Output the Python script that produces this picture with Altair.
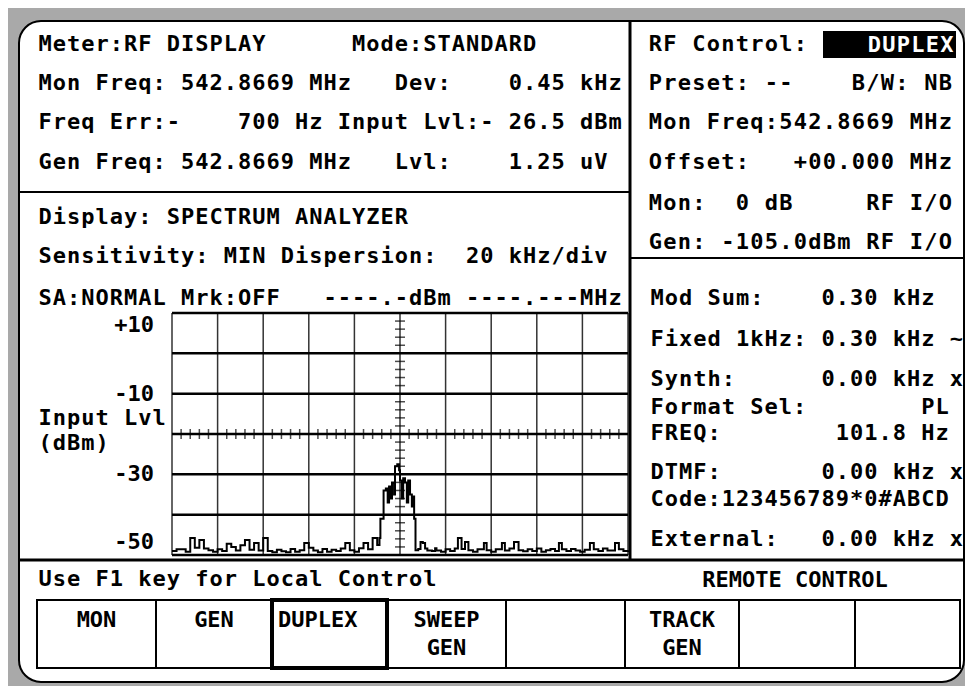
import altair as alt
import pandas as pd

OFF = 8  # page margin: picture px -> chart px
FONT = "DejaVu Sans Mono"
FS = 22
BEZEL = "#a9a9a9"

# ---------------- spectrum trace (offset from centre in kHz, level in dBm) ----------------
freq_khz = [-100, -98, -96, -94, -92, -90, -88, -86, -84, -82, -80, -78, -76, -74, -72, -70,
            -68, -66, -64, -62, -60, -58, -56, -54, -52, -50, -48, -46, -44, -42, -40, -38,
            -36, -34, -32, -30, -28, -26, -24, -22, -20, -18, -16, -14, -12, -10, -9,
            -8.6, -7.2, -6.2, -5.4, -4.8, -4.0, -3.5, -2.6, -2.2, -1.2, -0.4, 0.0, 0.8, 1.4,
            2.2, 3.0, 3.6, 4.4, 5.2, 5.8, 6.2, 6.8,
            8, 9, 10, 11, 12, 14, 15.4, 16, 18, 20, 22, 24, 25.4, 27, 28.5, 30, 32, 34, 36.8,
            38, 40, 42, 44.7, 46, 48, 50, 52, 54, 56, 58, 60, 62, 64, 66, 68, 69.7, 71, 73,
            75, 77, 79, 81, 83.3, 85, 87, 89, 91, 94.3, 96, 98, 100]
level_dbm = [-49.0, -48.6, -48.6, -49.2, -45.8, -48.2, -46.3, -48.4, -48.8, -49.2, -48.6, -49.0,
             -47.2, -48.0, -48.9, -47.6, -46.3, -48.7, -47.0, -48.9, -45.8, -49.0, -49.3, -48.7,
             -49.1, -49.3, -48.5, -49.2, -48.8, -47.0, -48.2, -48.9, -49.3, -48.5, -49.2, -48.7,
             -49.0, -48.4, -47.0, -48.8, -49.2, -48.3, -47.0, -48.6, -45.8, -47.5, -45.8,
             -41.0, -34.0, -33.5, -37.0, -33.0, -36.0, -32.0, -35.0, -28.0, -27.5, -29.0, -31.5,
             -36.0, -31.0, -32.0, -37.0, -31.5, -35.0, -38.0, -35.5, -41.0, -48.8,
             -48.5, -46.8, -47.0, -48.4, -48.9, -49.0, -48.3, -48.9, -49.2, -48.6, -49.0, -48.4,
             -45.8, -48.5, -46.8, -48.8, -49.2, -48.6, -47.0, -48.8, -49.2, -48.6, -47.0, -48.9,
             -48.4, -46.8, -48.8, -49.1, -48.6, -49.0, -48.4, -49.2, -48.8, -48.5, -49.0, -47.0,
             -48.6, -49.0, -48.5, -48.9, -49.2, -48.7, -47.0, -48.6, -49.0, -48.4, -48.9, -47.0,
             -48.6, -49.0, -48.8]

# ---------------- graticule ----------------
x_major_khz = [-100, -80, -60, -40, -20, 0, 20, 40, 60, 80, 100]
y_major_dbm = [10, 0, -10, -20, -30, -40, -50]
y_label_values = [10, -10, -30, -50]
y_label_text = ["+10", "-10", "-30", "-50"]
x_minor_khz = [v + s for v in range(-100, 100, 20) for s in (4, 8, 12, 16)]
y_minor_dbm = [v + s for v in range(-50, 10, 10) for s in (2, 4, 6, 8)]

# ---------------- screen readouts (fixed-pitch character screen) ----------------
left_lines = [
    "Meter:RF DISPLAY      Mode:STANDARD",
    "Mon Freq: 542.8669 MHz   Dev:    0.45 kHz",
    "Freq Err:-    700 Hz Input Lvl:- 26.5 dBm",
    "Gen Freq: 542.8669 MHz   Lvl:    1.25 uV",
    "Display: SPECTRUM ANALYZER",
    "Sensitivity: MIN Dispersion:  20 kHz/div",
    "SA:NORMAL Mrk:OFF   ----.-dBm ----.---MHz",
    "Input Lvl",
    "(dBm)",
    "Use F1 key for Local Control",
]
upper_right_lines = [
    "RF Control:",
    "Preset: --    B/W: NB",
    "Mon Freq:542.8669 MHz",
    "Offset:   +00.000 MHz",
    "Mon:  0 dB     RF I/O",
    "Gen: -105.0dBm RF I/O",
]
lower_right_lines = [
    "Mod Sum:    0.30 kHz",
    "Fixed 1kHz: 0.30 kHz ~",
    "Synth:      0.00 kHz x",
    "Format Sel:        PL",
    "FREQ:        101.8 Hz",
    "DTMF:       0.00 kHz x",
    "Code:123456789*0#ABCD",
    "External:   0.00 kHz x",
]
rf_control_state = "DUPLEX"
status_text = "REMOTE CONTROL"
softkeys = [["MON"], ["GEN"], ["DUPLEX"], ["SWEEP", "GEN"], [], ["TRACK", "GEN"], [], []]

# ---------------- layout (picture pixels) ----------------
left_x0, left_pitch = 38, 14.25
upper_right_x0, upper_right_pitch = 648, 14.5
lower_right_x0, lower_right_pitch = 650, 14.25
left_rows_y = [44, 83, 122, 162, 217, 256, 298, 418, 443, 579]
upper_right_rows_y = [44, 83, 122, 162, 203, 242]
lower_right_rows_y = [298, 339, 379, 407, 433, 472, 499, 539]
button_edges = [37, 156, 272, 387, 506, 625, 739, 855, 960]
button_top, button_bottom = 600, 668
button_text_y = [620, 648]

xs = alt.Scale(domain=[-100, 100], range=[172 - OFF, 628 - OFF], nice=False, zero=False)
ys = alt.Scale(domain=[-50, 10], range=[555 - OFF, 313 - OFF], nice=False, zero=False)


def PX(f="x"):
    return alt.X(f + ":Q", scale=None, axis=None)


def PY(f="y"):
    return alt.Y(f + ":Q", scale=None, axis=None)


def grid_chars(lines, ys_, x0, pitch):
    rows = []
    for text, y in zip(lines, ys_):
        for i, ch in enumerate(text):
            if ch != " ":
                rows.append((ch, x0 + (i + 0.5) * pitch - OFF, y - OFF))
    return pd.DataFrame(rows, columns=["t", "x", "y"])


def text_chart(df, align="center", color="black"):
    return alt.Chart(df).mark_text(align=align, baseline="middle", font=FONT, fontSize=FS,
                                   fontWeight="bold", color=color).encode(
        x=PX(), y=PY(), text="t:N")


def rect_df(rows):
    df = pd.DataFrame(rows, columns=["x", "x2", "y", "y2", "w"])
    for c in ("x", "x2", "y", "y2"):
        df[c] = df[c] - OFF
    return df


layers = []

# white screen with rounded corners
layers.append(alt.Chart(rect_df([(19, 964, 21, 682, 2)])).mark_rect(
    fill="white", stroke="black", strokeWidth=2, cornerRadius=22).encode(
    x=PX(), x2="x2:Q", y=PY(), y2="y2:Q"))

# graticule
vg = pd.DataFrame({"f": x_major_khz, "lo": -50, "hi": 10})
layers.append(alt.Chart(vg).mark_rule(color="#333", strokeWidth=1.5).encode(
    x=alt.X("f:Q", scale=xs, axis=None), y=alt.Y("lo:Q", scale=ys, axis=None), y2="hi:Q"))
hg = pd.DataFrame({"l": y_major_dbm, "lo": -100, "hi": 100})
layers.append(alt.Chart(hg).mark_rule(color="black", strokeWidth=2.5).encode(
    y=alt.Y("l:Q", scale=ys, axis=None), x=alt.X("lo:Q", scale=xs, axis=None), x2="hi:Q"))
mx = pd.DataFrame({"f": x_minor_khz, "l": -20})
layers.append(alt.Chart(mx).mark_tick(orient="vertical", size=10, thickness=1.5, color="black").encode(
    x=alt.X("f:Q", scale=xs, axis=None), y=alt.Y("l:Q", scale=ys, axis=None)))
my = pd.DataFrame({"f": 0, "l": y_minor_dbm})
layers.append(alt.Chart(my).mark_tick(orient="horizontal", size=10, thickness=1.5, color="black").encode(
    x=alt.X("f:Q", scale=xs, axis=None), y=alt.Y("l:Q", scale=ys, axis=None)))

# spectrum trace
trace = pd.DataFrame({"f": freq_khz, "l": level_dbm})
layers.append(alt.Chart(trace).mark_line(color="black", strokeWidth=2, interpolate="step-after").encode(
    x=alt.X("f:Q", scale=xs, axis=None), y=alt.Y("l:Q", scale=ys, axis=None)))

# y tick labels (end labels pulled inside the graticule)
lab = pd.DataFrame({"v": y_label_values, "t": y_label_text})
for sub, dy in ((lab.iloc[[0]], 12), (lab.iloc[1:3], 0), (lab.iloc[[3]], -13)):
    layers.append(alt.Chart(sub).mark_text(align="right", baseline="middle", font=FONT, fontSize=FS,
                                           fontWeight="bold", dy=dy, color="black").encode(
        x=alt.value(154 - OFF), y=alt.Y("v:Q", scale=ys, axis=None), text="t:N"))

# separators
seps = rect_df([(630, 630, 21, 560, 3), (20, 630, 192, 192, 2), (630, 964, 258, 258, 2),
                (20, 964, 560, 560, 3)])
layers.append(alt.Chart(seps).mark_rule(color="black").encode(
    x=PX(), x2="x2:Q", y=PY(), y2="y2:Q",
    strokeWidth=alt.StrokeWidth("w:Q", scale=None, legend=None)))

# soft-key buttons
btn_rows = [(button_edges[i], button_edges[i + 1], button_top, button_bottom, 2)
            for i in range(len(button_edges) - 1) if i != 2]
btn_rows.append((button_edges[2], button_edges[3], button_top, button_bottom, 4))
btn = rect_df(btn_rows)
btn["o"] = range(len(btn))
layers.append(alt.Chart(btn).mark_rect(fill="white", stroke="black").encode(
    x=PX(), x2="x2:Q", y=PY(), y2="y2:Q", order="o:Q",
    strokeWidth=alt.StrokeWidth("w:Q", scale=None, legend=None)))
key_rows = []
for i, lines in enumerate(softkeys):
    for j, word in enumerate(lines):
        if i == 2:
            key_rows.append((word, button_edges[i] + 6 - OFF, button_text_y[j] - OFF, "left"))
        else:
            key_rows.append((word, (button_edges[i] + button_edges[i + 1]) / 2 - OFF,
                             button_text_y[j] - OFF, "center"))
kdf = pd.DataFrame(key_rows, columns=["t", "x", "y", "a"])
layers.append(text_chart(kdf[kdf.a == "center"], "center"))
layers.append(text_chart(kdf[kdf.a == "left"], "left"))

# inverted DUPLEX field
layers.append(alt.Chart(rect_df([(823, 956, 31, 58, 0)])).mark_rect(fill="black").encode(
    x=PX(), x2="x2:Q", y=PY(), y2="y2:Q"))

# readouts on the character grid
layers.append(text_chart(grid_chars(left_lines, left_rows_y, left_x0, left_pitch)))
layers.append(text_chart(grid_chars(upper_right_lines, upper_right_rows_y,
                                    upper_right_x0, upper_right_pitch)))
layers.append(text_chart(grid_chars(lower_right_lines, lower_right_rows_y,
                                    lower_right_x0, lower_right_pitch)))
layers.append(text_chart(grid_chars([rf_control_state], [45],
                                    954 - len(rf_control_state) * upper_right_pitch,
                                    upper_right_pitch), color="white"))
layers.append(text_chart(pd.DataFrame([(status_text, 795 - OFF, 580 - OFF)], columns=["t", "x", "y"])))

chart = alt.layer(*layers).resolve_scale(x="independent", y="independent").properties(
    width=957, height=678, padding=0, background=BEZEL,
    autosize=alt.AutoSizeParams(type="none"),
).configure_view(stroke=None)

chart.save("out.html", embed_options={"renderer": "svg", "actions": False})
